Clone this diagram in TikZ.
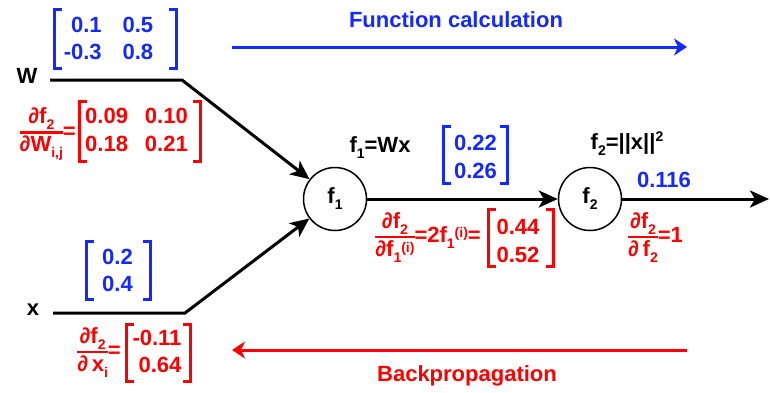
\documentclass[tikz,border=0pt]{standalone}
\usepackage{fontspec}
\setmainfont{Liberation Sans}
\usetikzlibrary{arrows.meta}
\definecolor{fblue}{RGB}{20,40,255}
\definecolor{bred}{RGB}{255,0,0}
\setlength{\arrayrulewidth}{2.5pt}
\newcommand\dn[1]{\raisebox{-6pt}{\fontsize{14}{14}\selectfont #1}}
\newcommand\upr[2]{\raisebox{#1}{\fontsize{14}{14}\selectfont #2}}
\newcommand\pfrac[2]{{\renewcommand\arraystretch{0.95}\begin{tabular}[c]{@{}c@{}}#1\\\hline #2\end{tabular}}}
\newcommand\brk[2]{%
  \draw[bk,#2] ([xshift=8pt]#1.north west) -- (#1.north west) -- (#1.south west) -- ([xshift=8pt]#1.south west);
  \draw[bk,#2] ([xshift=-8pt]#1.north east) -- (#1.north east) -- (#1.south east) -- ([xshift=-8pt]#1.south east);}
\begin{document}
\begin{tikzpicture}[x=1pt,y=-1pt,
  every node/.style={font=\bfseries\fontsize{22}{27}\selectfont, inner sep=0pt},
  bk/.style={line width=3pt},
  bbox/.style={draw=none, minimum width=#1},
  wire/.style={line width=3pt, -{Stealth[length=19pt,width=17pt,inset=5pt]}},
  fline/.style={line width=3pt, -{Stealth[length=13pt,width=17pt,inset=4pt]}},
  cnode/.style={circle, draw, line width=1.5pt, minimum size=63pt}]
\useasboundingbox (0,0) rectangle (770,392);

% operation nodes
\node[cnode] (f1) at (335,199) {f\dn{1}};
\node[cnode] (f2) at (590,199) {f\dn{2}};

% inputs
\node (Wl) at (27,76) {W};
\node (xl) at (33,310) {x};
\coordinate (w0) at (50,80);
\coordinate (w1) at (182,80);
\coordinate (x0) at (53,313);
\coordinate (x1) at (185,313);
\coordinate (out) at (769,199);

\draw[wire] (w0) -- (w1) -- (f1);
\draw[wire] (x0) -- (x1) -- (f1);
\draw[wire] (f1) -- (f2);
\draw[wire] (f2) -- (out);

% W matrix (blue)
\node[bbox=122pt, minimum height=59pt] (Wb) at (115.5,39) {};
\node[fblue] (Wm) at (108.5,41) {\begin{tabular}{@{}r@{\hspace{21pt}}r@{}}0.1 & 0.5\\ -0.3 & 0.8\end{tabular}};
\brk{Wb}{fblue}

% dW (red)
\node[bred, anchor=east] (dWl) at (76,133) {\pfrac{∂f\dn{2}}{∂W\dn{i,j}}=};
\node[bbox=121pt, minimum height=60pt] (dWb) at (140,131.5) {};
\node[bred] (dWm) at (136.5,132) {\begin{tabular}{@{}r@{\hspace{17pt}}r@{}}0.09 & 0.10\\[1pt] 0.18 & 0.21\end{tabular}};
\brk{dWb}{bred}

% x vector (blue)
\node[bbox=64pt, minimum height=58pt] (xb) at (118.5,270.5) {};
\node[fblue] (xm) at (117.5,273) {\begin{tabular}{@{}r@{}}0.2\\ 0.4\end{tabular}};
\brk{xb}{fblue}

% dx (red)
\node[bred, anchor=east] (dxl) at (121,352) {\pfrac{∂f\dn{2}}{∂\,x\dn{i}}=};
\node[bbox=64pt, minimum height=57pt] (dxb) at (158.5,353) {};
\node[bred] (dxm) at (157,354) {\begin{tabular}{@{}r@{}}-0.11\\ 0.64\end{tabular}};
\brk{dxb}{bred}

% f1 output
\node (f1t) at (380,148) {f\dn{1}=Wx};
\node[bbox=64pt, minimum height=57pt] (f1b) at (475.5,155) {};
\node[fblue] (f1m) at (475.5,159) {\begin{tabular}{@{}r@{}}0.22\\[1pt] 0.26\end{tabular}};
\brk{f1b}{fblue}

% df1 (red)
\node[bred, anchor=east] (dfl) at (481,237) {\pfrac{∂f\dn{2}}{∂f\dn{1}\upr{4pt}{(i)}}=2f\dn{1}\upr{5pt}{(i)}=};
\node[bbox=65pt, minimum height=57pt] (dfb) at (521,238) {};
\node[bred] (dfm) at (518,243) {\begin{tabular}{@{}r@{}}0.44\\[1pt] 0.52\end{tabular}};
\brk{dfb}{bred}

% f2 output
\node (f2t) at (627,144) {f\dn{2}=||x||\upr{8pt}{2}};
\node[fblue] (val) at (664,180) {0.116};
\node[bred, anchor=west] (df2) at (628,237) {\pfrac{∂f\dn{2}}{∂\,f\dn{2}}=1};

% direction arrows
\node[fblue] (fc) at (456,20) {Function calculation};
\coordinate (fa0) at (232,47);
\coordinate (fa1) at (687,47);
\draw[fline, fblue] (fa0) -- (fa1);
\node[bred] (bp) at (467,375.5) {Backpropagation};
\coordinate (ba0) at (687,350);
\coordinate (ba1) at (232,350);
\draw[fline, bred] (ba0) -- (ba1);
\end{tikzpicture}
\end{document}
